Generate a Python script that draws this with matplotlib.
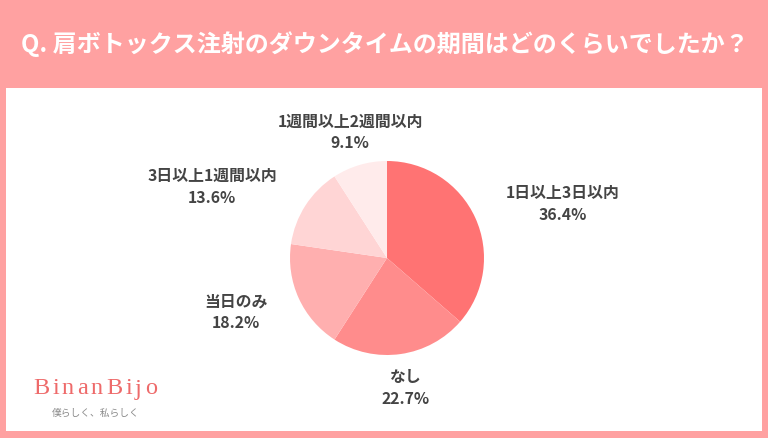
import numpy as np
import matplotlib.pyplot as plt
from matplotlib.patches import FancyBboxPatch

plt.rcParams['font.family'] = ['Noto Sans CJK JP', 'DejaVu Sans']

title = 'Q. 肩ボトックス注射のダウンタイムの期間はどのくらいでしたか？'
labels = ['1日以上3日以内', 'なし', '当日のみ', '3日以上1週間以内', '1週間以上2週間以内']
shares = [36.4, 22.7, 18.2, 13.6, 9.1]
colors = ['#FF7373', '#FF8C8C', '#FFAFAF', '#FFD5D5', '#FFEBEB']

W, H = 768, 438
fig = plt.figure(figsize=(W / 100, H / 100), dpi=100, facecolor='#FFA1A1')
ax = fig.add_axes([0, 0, 1, 1])
ax.set_axis_off()
ax.set_xlim(0, W)
ax.set_ylim(0, H)

# white panel
ax.add_patch(FancyBboxPatch((6, H - 431), 756, 343, boxstyle='square,pad=0',
                            facecolor='white', edgecolor='none', zorder=0))

ax.text(21, H - 44, title, color='white', fontsize=17.3, fontweight='bold',
        va='center', ha='left')

cx, cy, r = 387, H - 258, 97
wedges, _ = ax.pie(shares, colors=colors, startangle=90, counterclock=False,
                   center=(cx, cy), radius=r, wedgeprops=dict(linewidth=0))

lr = 131
for w, lab, v in zip(wedges, labels, shares):
    ang = np.deg2rad((w.theta1 + w.theta2) / 2)
    x = cx + lr * np.cos(ang)
    y = cy + lr * np.sin(ang)
    c = np.cos(ang)
    ha = 'left' if c > 0.5 else ('right' if c < -0.5 else 'center')
    ax.text(x, y, f'{lab}\n{v:.1f}%', ha=ha, va='center', multialignment='center',
            fontsize=11.4, fontweight='bold', color='#444444', linespacing=1.45)

# logo with letter spacing
renderer = fig.canvas.get_renderer()
lx = 33
for ch in 'BinanBijo':
    t = ax.text(lx, H - 389, ch, fontsize=17.5, family='Liberation Serif',
                color='#EE6A6A', ha='left', va='center')
    bb = t.get_window_extent(renderer)
    lx += bb.width + 3.0
ax.text(96, H - 413, '僕らしく、私らしく', fontsize=7, color='#8A8A8A',
        ha='center', va='center')

ax.set_xlim(0, W)
ax.set_ylim(0, H)
ax.set_aspect('auto')

fig.savefig('out.png', dpi=100, facecolor=fig.get_facecolor())
